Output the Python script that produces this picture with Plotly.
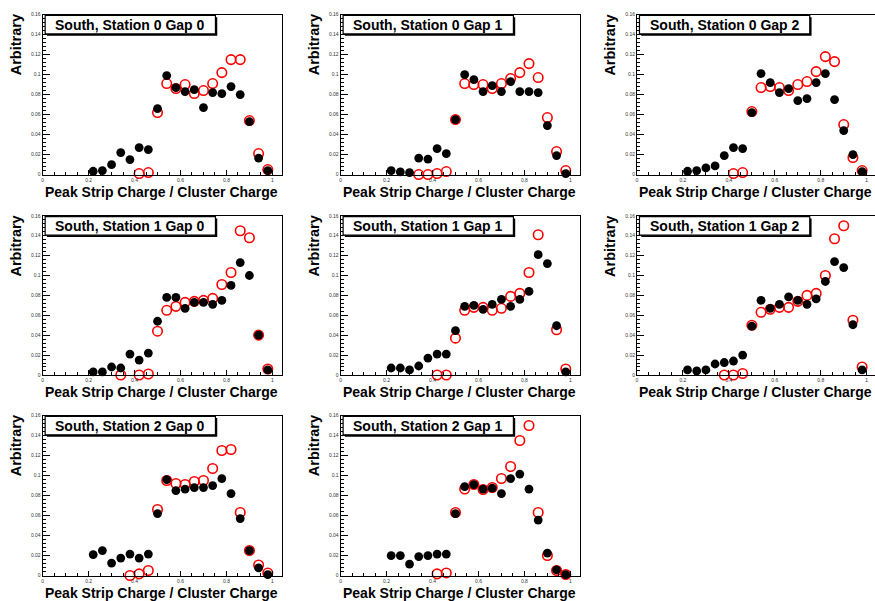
import plotly.graph_objects as go

# ---------------- data ----------------
x_centers = [0.22, 0.26, 0.30, 0.34, 0.38, 0.42, 0.46, 0.50, 0.54, 0.58,
             0.62, 0.66, 0.70, 0.74, 0.78, 0.82, 0.86, 0.90, 0.94, 0.98]

titles = ["South, Station 0 Gap 0", "South, Station 0 Gap 1", "South, Station 0 Gap 2",
          "South, Station 1 Gap 0", "South, Station 1 Gap 1", "South, Station 1 Gap 2",
          "South, Station 2 Gap 0", "South, Station 2 Gap 1"]

black_s0g0 = [0.0033, 0.004, 0.0099, 0.022, 0.015, 0.027, 0.025, 0.066, 0.099, 0.087,
              0.083, 0.085, 0.067, 0.082, 0.081, 0.088, 0.080, 0.053, 0.0165, 0.004]
red_s0g0 = [None, None, None, None, None, 0.001, 0.002, 0.062, 0.091, 0.086,
            0.090, 0.081, 0.084, 0.091, 0.102, 0.115, 0.115, 0.054, 0.021, 0.005]

black_s0g1 = [0.004, 0.0026, 0.002, 0.0165, 0.0155, 0.026, 0.021, 0.055, 0.100, 0.095,
              0.083, 0.089, 0.083, 0.093, 0.083, 0.083, 0.082, 0.049, 0.019, 0.001]
red_s0g1 = [None, None, None, 0.0, 0.0, 0.001, 0.003, 0.055, 0.091, 0.090,
            0.090, 0.086, 0.091, 0.096, 0.102, 0.111, 0.097, 0.057, 0.023, 0.004]

black_s0g2 = [0.0033, 0.004, 0.0066, 0.0086, 0.019, 0.027, 0.026, 0.062, 0.101, 0.092,
              0.082, 0.086, 0.074, 0.076, 0.092, 0.101, 0.075, 0.044, 0.020, 0.003]
red_s0g2 = [None, None, None, None, None, 0.001, 0.002, 0.063, 0.087, 0.088,
            0.087, 0.084, 0.090, 0.093, 0.103, 0.118, 0.113, 0.050, 0.017, 0.004]

black_s1g0 = [0.003, 0.003, 0.008, 0.007, 0.021, 0.015, 0.022, 0.054, 0.078, 0.078,
              0.067, 0.073, 0.073, 0.071, 0.075, 0.090, 0.113, 0.100, 0.040, 0.005]
red_s1g0 = [None, None, None, 0.0, None, 0.0, 0.001, 0.044, 0.065, 0.069,
            0.073, 0.074, 0.075, 0.077, 0.091, 0.103, 0.145, 0.138, 0.040, 0.006]

black_s1g1 = [0.007, 0.007, 0.005, 0.009, 0.017, 0.021, 0.021, 0.0445, 0.069, 0.070,
              0.066, 0.071, 0.076, 0.069, 0.076, 0.084, 0.121, 0.112, 0.0495, 0.003]
red_s1g1 = [None, None, None, None, None, 0.0, 0.0, 0.037, 0.065, 0.068,
            0.068, 0.065, 0.067, 0.079, 0.082, 0.103, 0.141, None, 0.0455, 0.006]

black_s1g2 = [0.005, 0.004, 0.005, 0.011, 0.0125, 0.014, 0.020, 0.049, 0.075, 0.067,
              0.071, 0.0785, 0.075, 0.071, 0.0765, 0.094, 0.114, 0.108, 0.0505, 0.005]
red_s1g2 = [None, None, None, None, 0.0, 0.0, 0.0015, 0.050, 0.063, 0.066,
            0.068, 0.068, 0.074, 0.080, 0.082, 0.100, 0.137, 0.150, 0.055, 0.008]

black_s2g0 = [0.021, 0.025, 0.0125, 0.0175, 0.0215, 0.0175, 0.0215, 0.062, 0.096, 0.085,
              0.0865, 0.088, 0.088, 0.090, 0.097, 0.082, 0.057, 0.025, 0.0076, 0.001]
red_s2g0 = [None, None, None, None, 0.0, 0.0017, 0.005, 0.066, 0.095, 0.092,
            0.091, 0.094, 0.095, 0.107, 0.125, 0.126, 0.063, 0.025, 0.0105, 0.0026]

black_s2g1 = [0.020, 0.020, 0.0115, 0.019, 0.020, 0.0215, 0.0215, 0.062, 0.089, 0.091,
              0.0865, 0.0875, 0.082, 0.097, 0.1015, 0.0865, 0.0555, 0.0225, 0.0056, 0.001]
red_s2g1 = [None, None, None, None, None, 0.0017, 0.0026, 0.063, 0.0865, 0.091,
            0.086, 0.088, 0.097, 0.109, 0.135, 0.150, 0.063, 0.020, 0.005, 0.001]

black_series = [black_s0g0, black_s0g1, black_s0g2, black_s1g0,
                black_s1g1, black_s1g2, black_s2g0, black_s2g1]
red_series = [red_s0g0, red_s0g1, red_s0g2, red_s1g0,
              red_s1g1, red_s1g2, red_s2g0, red_s2g1]

x_title = "Peak Strip Charge / Cluster Charge"
y_title = "Arbitrary"

# ---------------- layout geometry (pixels) ----------------
W, H = 875, 601
col_x0 = [41.7, 340.0, 636.7]
row_top = [11.7, 215.0, 416.7]
row_bot = [173.3, 375.7, 578.3]
PXU = 230.0  # pixels per x unit


def px(x):
    return x / W


def py(y):
    return 1 - y / H


FONT = "Liberation Sans, Arial, Helvetica, sans-serif"

fig = go.Figure()
layout = dict(
    width=W, height=H,
    margin=dict(l=0, r=0, t=0, b=0),
    paper_bgcolor="white", plot_bgcolor="white",
    showlegend=False,
    font=dict(family=FONT, color="black"),
)
shapes = []
annotations = []

for i in range(8):
    r, c = divmod(i, 3)
    x0 = col_x0[c]
    x1 = min(x0 + 1.04 * PXU, W)
    xr = (x1 - x0) / PXU
    yt, yb = row_top[r], row_bot[r]
    k = "" if i == 0 else str(i + 1)
    xa, ya = "x" + k, "y" + k

    fig.add_trace(go.Scatter(
        x=x_centers, y=red_series[i], mode="markers", xaxis=xa, yaxis=ya,
        cliponaxis=False, hoverinfo="skip",
        marker=dict(symbol="circle-open", size=9.5, color="red",
                    line=dict(color="red", width=1.6)),
    ))
    fig.add_trace(go.Scatter(
        x=x_centers, y=black_series[i], mode="markers", xaxis=xa, yaxis=ya,
        cliponaxis=False, hoverinfo="skip",
        marker=dict(symbol="circle", size=8.8, color="black",
                    line=dict(width=0)),
    ))

    layout["xaxis" + k] = dict(
        domain=[px(x0), px(x1)], range=[0, xr], anchor=ya,
        showgrid=False, zeroline=False,
        showline=True, linecolor="black", linewidth=1, mirror=True,
        ticks="inside", ticklen=5, tickwidth=1, tickcolor="black",
        tickvals=[0, 0.2, 0.4, 0.6, 0.8, 1.0],
        ticktext=["0", "0.2", "0.4", "0.6", "0.8", "1"],
        tickfont=dict(size=5, color="#333333", family=FONT),
        minor=dict(ticks="inside", ticklen=2.5, tickwidth=1, tickcolor="black",
                   dtick=0.05, tick0=0, showgrid=False),
        fixedrange=True,
    )
    layout["yaxis" + k] = dict(
        domain=[py(yb), py(yt)], range=[0, 0.16], anchor=xa,
        showgrid=False, zeroline=False,
        showline=True, linecolor="black", linewidth=1, mirror=(c != 2),
        ticks="inside", ticklen=7, tickwidth=1, tickcolor="black",
        tickvals=[0, 0.02, 0.04, 0.06, 0.08, 0.1, 0.12, 0.14, 0.16],
        ticktext=["0", "0.02", "0.04", "0.06", "0.08", "0.1", "0.12", "0.14", "0.16"],
        tickfont=dict(size=5, color="#333333", family=FONT),
        minor=dict(ticks="inside", ticklen=3.5, tickwidth=1, tickcolor="black",
                   dtick=0.004, tick0=0, showgrid=False),
        fixedrange=True,
    )

    # title box with shadow
    bx0, bx1 = x0 + 2.5, x0 + 173.0
    by0, by1 = yt + 0.8, yt + 19.5
    shapes.append(dict(type="rect", xref="paper", yref="paper",
                       x0=px(bx0 + 1.8), x1=px(bx1 + 1.8), y0=py(by1 + 1.8), y1=py(by0 + 1.8),
                       fillcolor="black", line=dict(width=0), layer="above"))
    shapes.append(dict(type="rect", xref="paper", yref="paper",
                       x0=px(bx0), x1=px(bx1), y0=py(by1), y1=py(by0),
                       fillcolor="white", line=dict(color="black", width=1.2), layer="above"))
    annotations.append(dict(
        text="<b>%s</b>" % titles[i], xref="paper", yref="paper",
        x=px((bx0 + bx1) / 2), y=py((by0 + by1) / 2),
        xanchor="center", yanchor="middle", showarrow=False,
        font=dict(size=14, family=FONT, color="black"),
    ))
    # axis titles
    annotations.append(dict(
        text="<b>%s</b>" % x_title, xref="paper", yref="paper",
        x=px(x0 + 1.04 * PXU - 1.5), y=py(yb + 17.5),
        xanchor="right", yanchor="middle", showarrow=False,
        font=dict(size=14, family=FONT, color="black"),
    ))
    annotations.append(dict(
        text="<b>%s</b>" % y_title, xref="paper", yref="paper",
        x=px(x0 - 26.5), y=py(yt - 2.0),
        xanchor="center", yanchor="top", textangle=-90, showarrow=False,
        font=dict(size=14.5, family=FONT, color="black"),
    ))

layout["shapes"] = shapes
layout["annotations"] = annotations
layout["hovermode"] = False
fig.update_layout(**layout)
fig.write_html(
    "out.html",
    config={"displayModeBar": False, "staticPlot": True},
    post_script="document.body.style.margin='0';document.body.style.padding='0';"
                "document.body.style.overflow='hidden';",
)
